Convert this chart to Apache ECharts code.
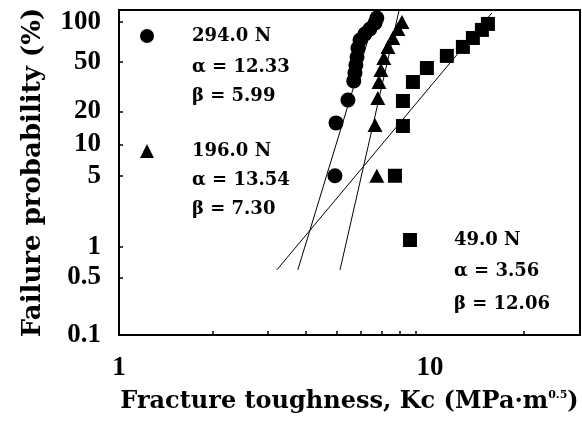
<!DOCTYPE html>
<html>
<head>
<meta charset="utf-8">
<script src="https://cdn.jsdelivr.net/npm/echarts@6/dist/echarts.min.js"></script>
<style>html,body{margin:0;padding:0;background:#fff;}#c{width:582px;height:421px;}</style>
</head>
<body>
<div id="c"></div>
<script>
// ---- data (fracture toughness Kc, failure probability %) ----
const circleK = [4.95, 4.99, 5.45, 5.69, 5.74, 5.78, 5.83, 5.87, 5.96, 6.18, 6.41, 6.66, 6.75];
const circleF = [5, 15.8, 25.2, 36.2, 41.7, 47.6, 54.0, 61.5, 68.2, 73.2, 77.1, 81.6, 85.0];
const triK = [6.75, 6.66, 6.80, 6.86, 6.96, 7.11, 7.33, 7.60, 7.89, 8.13];
const triF = [5, 15.1, 26.2, 35.5, 43.8, 53.2, 62.4, 69.9, 77.1, 82.3];
const sqK = [7.72, 8.19, 8.19, 8.82, 9.78, 11.34, 12.77, 13.75, 14.70, 15.37];
const sqF = [5, 14.8, 24.7, 35.5, 45.3, 54.9, 62.4, 69.9, 76.4, 80.9];

const circleFitK = [3.76, 6.75], circleFitF = [0.594, 89.2];
const triFitK = [5.14, 7.95], triFitF = [0.594, 89.2];
const sqFitK = [3.22, 15.83], sqFitF = [0.594, 88.1];

const seriesNames = ['294.0 N', '196.0 N', '49.0 N'];
const alphaText = ['\u03b1 = 12.33', '\u03b1 = 13.54', '\u03b1 = 3.56'];
const betaText = ['\u03b2 = 5.99', '\u03b2 = 7.30', '\u03b2 = 12.06'];

const yTickLabels = ['0.1', '0.5', '1', '5', '10', '20', '50', '100'];
const yTickProbs = [0.134, 0.5, 1, 5, 10, 20, 50, 82.3];
const yMinProb = 0.134, yMaxProb = 89.74;
const xLabelVals = [1, 10];
const xTickVals = [2, 3, 4, 5, 6, 7, 8, 9, 20];
const xMin = 1, xMax = 30.4;

// Weibull probability-paper transform
const weib = p => Math.log(-Math.log(1 - p / 100));
const pts = (K, F) => K.map((k, i) => [k, weib(F[i])]);

const SERIF = 'DejaVu Serif';
const TIMES = 'Liberation Serif';
const yTickPos = yTickProbs.map(weib);

const chart = echarts.init(document.getElementById('c'), null, {renderer: 'canvas'});
const legendBase = (name, icon, left, top, pad) => ({
  data: [name], icon: icon, left: left, top: top, itemWidth: 14, itemHeight: 14,
  padding: 0, selectedMode: false,
  textStyle: {fontFamily: SERIF, fontWeight: 'bold', fontSize: 18, color: '#000', padding: [0, 0, 0, pad]}
});
const txt = (t, x, y) => ({
  type: 'text', x: x, y: y, silent: true,
  style: {text: t, fill: '#000', font: 'bold 18px "DejaVu Serif"', verticalAlign: 'middle', align: 'left'}
});

chart.setOption({
  animation: false,
  backgroundColor: '#fff',
  grid: {left: 119, right: 2, top: 10, bottom: 86, show: true, borderColor: '#000', borderWidth: 2,
         containLabel: false, outerBoundsMode: 'none'},
  legend: [
    legendBase(seriesNames[0], 'circle', 140, 27, 33),
    legendBase(seriesNames[1], 'triangle', 140, 142, 33),
    legendBase(seriesNames[2], 'rect', 403, 231, 32)
  ],
  graphic: [
    txt(alphaText[0], 192, 67), txt(betaText[0], 192, 96),
    txt(alphaText[1], 192, 180), txt(betaText[1], 192, 209),
    txt(alphaText[2], 454, 271), txt(betaText[2], 454, 304)
  ],
  xAxis: {
    type: 'log', logBase: 10, min: xMin, max: xMax,
    splitLine: {show: false},
    axisLine: {onZero: false, lineStyle: {color: '#000', width: 2}},
    axisTick: {inside: true, length: 4, customValues: xTickVals, lineStyle: {color: '#000', width: 1.5}},
    minorTick: {show: false},
    axisLabel: {customValues: xLabelVals, formatter: v => String(Math.round(v)),
      fontFamily: TIMES, fontWeight: 'bold', fontSize: 27, color: '#000', margin: 20},
    name: 'Fracture toughness, Kc (MPa\u00b7m{sup|0.5})',
    nameLocation: 'middle', nameGap: 55,
    nameTextStyle: {fontFamily: SERIF, fontWeight: 'bold', fontSize: 24, color: '#000',
      rich: {sup: {fontFamily: SERIF, fontWeight: 'bold', fontSize: 11, color: '#000', verticalAlign: 'top', padding: [0, 0, 10, 0]}}}
  },
  yAxis: {
    type: 'value', min: weib(yMinProb), max: weib(yMaxProb),
    splitLine: {show: false},
    axisLine: {show: true, onZero: false, lineStyle: {color: '#000', width: 2}},
    axisTick: {inside: true, length: 4, customValues: yTickPos, lineStyle: {color: '#000', width: 1.5}},
    axisLabel: {customValues: yTickPos,
      formatter: v => {
        let best = 0, d = Infinity;
        yTickPos.forEach((p, i) => { if (Math.abs(p - v) < d) { d = Math.abs(p - v); best = i; } });
        return yTickLabels[best];
      },
      fontFamily: TIMES, fontWeight: 'bold', fontSize: 27, color: '#000', margin: 18},
    name: 'Failure probability (%)',
    nameLocation: 'middle', nameGap: 73, nameRotate: 90,
    nameTextStyle: {fontFamily: SERIF, fontWeight: 'bold', fontSize: 26, color: '#000'}
  },
  series: [
    {type: 'line', data: pts(circleFitK, circleFitF), symbol: 'none', silent: true,
     lineStyle: {color: '#000', width: 1}, z: 1},
    {type: 'line', data: pts(triFitK, triFitF), symbol: 'none', silent: true,
     lineStyle: {color: '#000', width: 1}, z: 1},
    {type: 'line', data: pts(sqFitK, sqFitF), symbol: 'none', silent: true,
     lineStyle: {color: '#000', width: 1}, z: 1},
    {type: 'scatter', name: seriesNames[0], symbol: 'circle', symbolSize: 15,
     data: pts(circleK, circleF), itemStyle: {color: '#000', opacity: 1}, z: 3},
    {type: 'scatter', name: seriesNames[1], symbol: 'triangle', symbolSize: [15, 14],
     data: pts(triK, triF), itemStyle: {color: '#000', opacity: 1}, z: 3},
    {type: 'scatter', name: seriesNames[2], symbol: 'rect', symbolSize: 14,
     data: pts(sqK, sqF), itemStyle: {color: '#000', opacity: 1}, z: 3}
  ]
});
</script>
</body>
</html>
